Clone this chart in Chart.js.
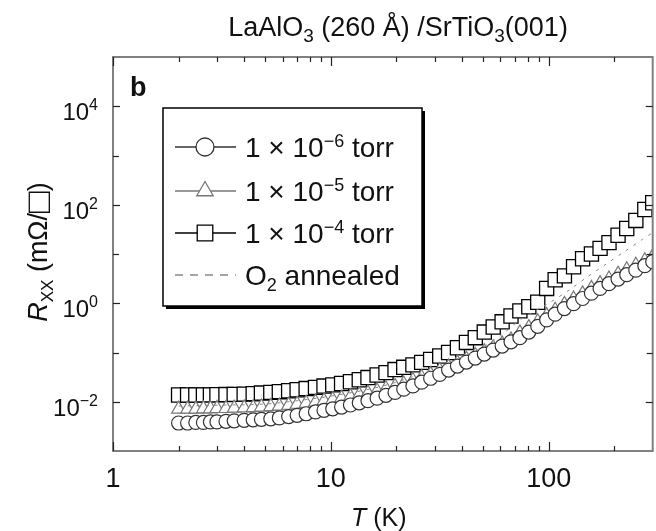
<!DOCTYPE html>
<html lang="en">
<head>
<meta charset="UTF-8" />
<title>LaAlO3 (260 Å) / SrTiO3(001) sheet resistance</title>
<script src="https://cdn.jsdelivr.net/npm/chart.js"></script>
<style>
  body { margin: 0; background: #fff; overflow: hidden; }
  #wrap { width: 664px; height: 531px; }
</style>
</head>
<body>
<div id="wrap"><canvas id="rxxChart" width="664" height="531"></canvas></div>
<script>
// measurement temperatures (K), shared by the three growth-pressure runs
const temps = [2.0, 2.2, 2.4, 2.6, 2.8, 3.0, 3.3, 3.6, 4.0, 4.4, 4.8, 5.3, 5.8, 6.4, 7.0, 7.7, 8.5, 9.3,
  10.2, 11.2, 12.3, 13.5, 14.8, 16.3, 17.9, 19.7, 21.6, 23.8, 26.1, 28.7, 31.6, 34.7, 38.1, 41.9,
  46.0, 50.6, 55.6, 61.1, 67.1, 73.7, 81.0, 89.0, 97.8, 107, 118, 130, 143, 157, 172, 189, 208,
  228, 251, 276, 300];

// R_xx (mOhm/sq) grown at 1e-6 torr
const rxx6 = [0.0037, 0.0037, 0.0038, 0.0038, 0.0039, 0.0039, 0.0040, 0.0041, 0.0042, 0.0043, 0.0044,
  0.0045, 0.0047, 0.0050, 0.0053, 0.0057, 0.0062, 0.0067, 0.0072, 0.0078, 0.0086, 0.0095, 0.0105,
  0.0118, 0.0135, 0.0155, 0.018, 0.021, 0.025, 0.030, 0.036, 0.044, 0.053, 0.064, 0.077, 0.093,
  0.112, 0.135, 0.165, 0.20, 0.26, 0.34, 0.46, 0.60, 0.78, 0.98, 1.25, 1.6, 2.0, 2.5, 3.1, 3.8,
  4.7, 5.8, 7.0];

// grown at 1e-5 torr
const rxx5 = [0.0071, 0.0071, 0.0071, 0.0072, 0.0072, 0.0073, 0.0073, 0.0074, 0.0075, 0.0076, 0.0078,
  0.0080, 0.0082, 0.0085, 0.0089, 0.0093, 0.0098, 0.0104, 0.011, 0.0118, 0.0127, 0.0138, 0.015,
  0.0165, 0.0183, 0.0205, 0.023, 0.027, 0.031, 0.036, 0.043, 0.051, 0.061, 0.073, 0.087, 0.104,
  0.125, 0.15, 0.18, 0.25, 0.32, 0.42, 0.56, 0.72, 0.95, 1.22, 1.55, 2.0, 2.5, 3.1, 3.9, 4.8,
  5.9, 7.3, 8.8];

// grown at 1e-4 torr
const rxx4 = [0.0137, 0.0137, 0.0137, 0.0138, 0.0138, 0.0139, 0.0140, 0.0141, 0.0143, 0.0146, 0.0150,
  0.0155, 0.0160, 0.0167, 0.0175, 0.0185, 0.0196, 0.0208, 0.022, 0.0235, 0.0255, 0.028, 0.031,
  0.035, 0.039, 0.045, 0.050, 0.056, 0.063, 0.072, 0.085, 0.10, 0.125, 0.16, 0.20, 0.26, 0.33,
  0.42, 0.55, 0.70, 0.85, 1.05, 2.0, 3.0, 3.6, 5.5, 8.0, 10, 13, 17, 24, 33, 48, 80, 110];

// O2-annealed sample
const annealT = [2, 3, 5, 7, 10, 15, 20, 30, 40, 50, 60, 75, 100, 125, 150, 185, 220, 270, 300];
const annealR = [0.0082, 0.0085, 0.009, 0.0105, 0.013, 0.018, 0.025, 0.047, 0.08, 0.13, 0.22, 0.48,
  1.0, 1.9, 3.4, 6.4, 10.8, 20, 27];

const seriesExps = ['\u22126', '\u22125', '\u22124'];

// axis ticks
const xMajor = [1, 10, 100];
const xMajorLabels = ['1', '10', '100'];
const xMinor = [2, 3, 4, 5, 6, 7, 8, 9, 20, 30, 40, 50, 60, 70, 80, 90, 200];
const yMajor = [1e4, 1e2, 1, 1e-2];
const yMajorExps = ['4', '2', '0', '\u22122'];
const yMinor = [1e3, 10, 0.1];

const FONT = '"Liberation Sans", Arial, Helvetica, sans-serif';

const pts = (xs, ys) => xs.map((t, i) => ({ x: t, y: ys[i] }));

function fontOf(p) {
  return (p.italic ? 'italic ' : '') + (p.bold ? 'bold ' : '') + p.size + 'px ' + FONT;
}

// draws a run of text pieces (for sub/superscripts) starting, ending or centred at x
function drawParts(ctx, parts, x, y, align) {
  let w = 0;
  parts.forEach(p => { ctx.font = fontOf(p); w += ctx.measureText(p.t).width; });
  let cx = align === 'right' ? x - w : align === 'center' ? x - w / 2 : x;
  parts.forEach(p => {
    ctx.font = fontOf(p);
    ctx.fillText(p.t, cx, y + (p.dy || 0));
    cx += ctx.measureText(p.t).width;
  });
}

const decorations = {
  id: 'decorations',
  afterDatasetsDraw(chart) {
    const { ctx, chartArea: a, scales: { x, y } } = chart;
    ctx.save();

    // frame
    ctx.strokeStyle = '#808080';
    ctx.lineWidth = 2;
    ctx.strokeRect(a.left, a.top, a.right - a.left, a.bottom - a.top);

    // inward ticks on all four sides
    ctx.strokeStyle = '#222';
    ctx.lineWidth = 1.2;
    const seg = (x1, y1, x2, y2) => { ctx.beginPath(); ctx.moveTo(x1, y1); ctx.lineTo(x2, y2); ctx.stroke(); };
    const xTicks = (vals, len) => vals.forEach(v => {
      const px = Math.round(x.getPixelForValue(v)) + 0.5;
      seg(px, a.bottom, px, a.bottom - len);
      seg(px, a.top, px, a.top + len);
    });
    const yTicks = (vals, len) => vals.forEach(v => {
      const py = Math.round(y.getPixelForValue(v)) + 0.5;
      seg(a.left, py, a.left + len, py);
      seg(a.right, py, a.right - len, py);
    });
    xTicks(xMajor, 9); xTicks(xMinor, 5);
    yTicks(yMajor, 7); yTicks(yMinor, 6);

    ctx.fillStyle = '#111';
    ctx.textBaseline = 'alphabetic';

    // tick labels
    xMajor.forEach((v, i) => {
      drawParts(ctx, [{ t: xMajorLabels[i], size: 27 }], x.getPixelForValue(v), 487, 'center');
    });
    yMajor.forEach((v, i) => {
      const py = y.getPixelForValue(v);
      drawParts(ctx, [{ t: '10', size: 24 }, { t: yMajorExps[i], size: 16, dy: -10 }], 98, py + 14, 'right');
    });

    // axis titles
    drawParts(ctx, [{ t: 'T', size: 25, italic: true }, { t: ' (K)', size: 25 }], 351, 526, 'left');
    ctx.save();
    ctx.translate(47, 252);
    ctx.rotate(-Math.PI / 2);
    drawParts(ctx, [{ t: 'R', size: 27, italic: true }, { t: 'XX', size: 17, dy: 6 },
      { t: ' (m\u03A9/', size: 27 }, { t: '\u25A1', size: 36, dy: 3 }, { t: ')', size: 27 }], 0, 0, 'center');
    ctx.restore();

    // title and panel letter
    drawParts(ctx, [{ t: 'LaAlO', size: 27 }, { t: '3', size: 19, dy: 6 }, { t: ' (260 \u00C5) /SrTiO', size: 27 },
      { t: '3', size: 19, dy: 6 }, { t: '(001)', size: 27 }], 398, 36, 'center');
    drawParts(ctx, [{ t: 'b', size: 27, bold: true }], 130, 96, 'left');

    // legend box with drop shadow
    const L = 163, T = 108, W = 259, H = 198;
    ctx.fillStyle = '#000';
    ctx.fillRect(L + 3, T + 3, W, H);
    ctx.fillStyle = '#fff';
    ctx.fillRect(L, T, W, H);
    ctx.strokeStyle = '#000';
    ctx.lineWidth = 1.5;
    ctx.strokeRect(L, T, W, H);

    const rows = [147, 191, 233, 275];
    chart.data.datasets.forEach((ds, i) => {
      const ry = rows[i];
      ctx.strokeStyle = ds.borderColor;
      ctx.lineWidth = 1.3;
      if (ds.borderDash) ctx.setLineDash([8, 7]);
      seg(175, ry, 236, ry);
      ctx.setLineDash([]);
      if (ds.legendRadius) {
        ctx.fillStyle = '#fff';
        ctx.strokeStyle = ds.borderColor;
        Chart.helpers.drawPoint(ctx, { pointStyle: ds.pointStyle, radius: ds.legendRadius, rotation: 0, borderWidth: 1.3 }, 205, ry);
      }
      ctx.fillStyle = '#111';
      if (i < 3) {
        drawParts(ctx, [{ t: '1 \u00D7 10', size: 28 }, { t: seriesExps[i], size: 18, dy: -10 }, { t: ' torr', size: 28 }], 245, ry + 10, 'left');
      } else {
        drawParts(ctx, [{ t: 'O', size: 28 }, { t: '2', size: 18, dy: 6 }, { t: ' annealed', size: 28 }], 245, ry + 10, 'left');
      }
    });

    ctx.restore();
  }
};

const ctx = document.getElementById('rxxChart').getContext('2d');

new Chart(ctx, {
  type: 'scatter',
  data: {
    datasets: [
      {
        label: '1 \u00D7 10\u22126 torr',
        data: pts(temps, rxx6),
        pointStyle: 'circle', pointRadius: 7, legendRadius: 9,
        borderColor: '#333', backgroundColor: '#fff', borderWidth: 1.2,
        showLine: false, order: 1
      },
      {
        label: '1 \u00D7 10\u22125 torr',
        data: pts(temps, rxx5),
        pointStyle: 'triangle', pointRadius: 8, legendRadius: 9.5,
        borderColor: '#777', backgroundColor: '#fff', borderWidth: 1.2,
        showLine: false, order: 2
      },
      {
        label: '1 \u00D7 10\u22124 torr',
        data: pts(temps, rxx4),
        pointStyle: 'rect', pointRadius: 10, legendRadius: 11,
        borderColor: '#000', backgroundColor: '#fff', borderWidth: 1.3,
        showLine: false, order: 3
      },
      {
        label: 'O2 annealed',
        data: pts(annealT, annealR),
        pointRadius: 0,
        borderColor: '#888', borderWidth: 1, borderDash: [3, 6],
        showLine: true, fill: false, tension: 0.3, order: 0
      }
    ]
  },
  options: {
    responsive: false,
    animation: false,
    devicePixelRatio: 1,
    layout: { padding: { left: 113, top: 57, right: 1, bottom: 80 } },
    scales: {
      x: { type: 'logarithmic', min: 1, max: 300, display: false },
      y: { type: 'logarithmic', min: 1e-3, max: 1e5, display: false }
    },
    plugins: {
      legend: { display: false },
      tooltip: { enabled: false }
    }
  },
  plugins: [decorations]
});
</script>
</body>
</html>
